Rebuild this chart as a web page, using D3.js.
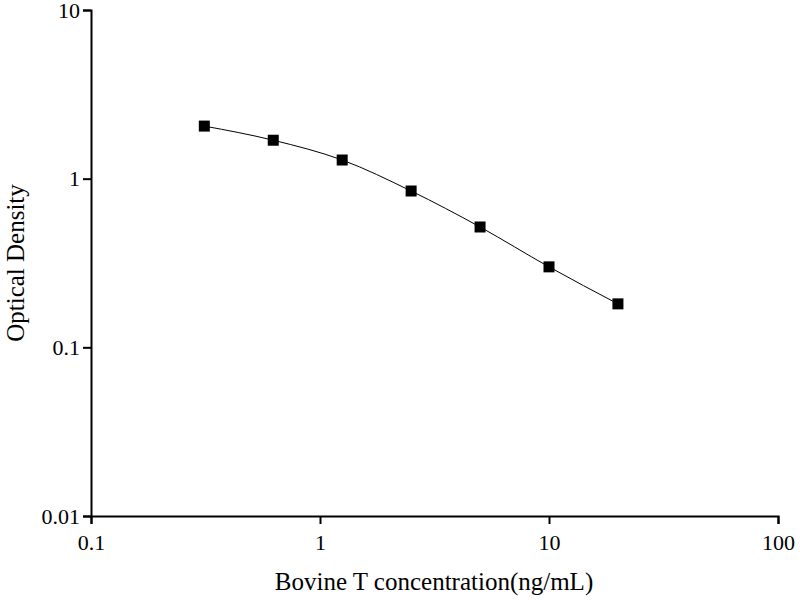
<!DOCTYPE html>
<html>
<head>
<meta charset="utf-8">
<script src="https://cdn.jsdelivr.net/npm/d3@7"></script>
<style>
  body { margin: 0; background: #fff; }
  text { font-family: "Liberation Serif", "Times New Roman", serif; }
</style>
</head>
<body>
<script>
// standard curve values
var concentration = [0.3125, 0.625, 1.25, 2.5, 5, 10, 20];
var density = [2.05, 1.69, 1.29, 0.845, 0.517, 0.30, 0.181];
var xTicks = [0.1, 1, 10, 100];
var yTicks = [0.01, 0.1, 1, 10];

var svg = d3.select("body").append("svg")
    .attr("width", 800)
    .attr("height", 600);

var x = d3.scaleLog().domain([0.1, 100]).range([91, 778]);
var y = d3.scaleLog().domain([0.01, 10]).range([516, 10]);

// minor ticks 2..9 in each decade
function minors(lo, hi) {
    var out = [];
    for (var d = lo; d < hi; d *= 10)
        for (var k = 2; k < 10; k++) out.push(d * k);
    return out;
}

var fmt = function (d) { return String(+d.toPrecision(3)); };

// x axis
var gx = svg.append("g").attr("transform", "translate(0,516)");
gx.call(d3.axisBottom(x).tickValues(minors(0.1, 100)).tickSize(4).tickFormat(""));
gx.call(d3.axisBottom(x).tickValues(xTicks).tickSize(8).tickFormat(fmt));

// y axis
var gy = svg.append("g").attr("transform", "translate(91,0)");
gy.call(d3.axisLeft(y).tickValues(minors(0.01, 10)).tickSize(4).tickFormat(""));
gy.call(d3.axisLeft(y).tickValues(yTicks).tickSize(8).tickFormat(fmt));

svg.selectAll(".domain").attr("stroke", "#000").attr("stroke-width", 2);
svg.selectAll(".tick line").attr("stroke", "#000").attr("stroke-width", 2);
svg.selectAll("g").attr("font-size", null);
svg.selectAll(".tick text")
    .attr("fill", "#000")
    .style("font-size", "22px")
    .style("font-family", "Liberation Serif");
gx.selectAll(".tick text").attr("dy", "1.05em");

// axis titles
svg.append("text")
    .attr("x", 434).attr("y", 590)
    .attr("text-anchor", "middle")
    .style("font-size", "25px")
    .text("Bovine T concentration(ng/mL)");

svg.append("text")
    .attr("transform", "translate(24,263) rotate(-90)")
    .attr("text-anchor", "middle")
    .style("font-size", "25px")
    .text("Optical Density");

// fitted curve
var pts = concentration.map(function (c, i) { return [c, density[i]]; });
var line = d3.line()
    .x(function (d) { return x(d[0]); })
    .y(function (d) { return y(d[1]); })
    .curve(d3.curveMonotoneX);

svg.append("path")
    .datum(pts)
    .attr("d", line)
    .attr("fill", "none")
    .attr("stroke", "#000")
    .attr("stroke-width", 1);

// markers
svg.selectAll(".pt")
    .data(pts).enter()
    .append("rect")
    .attr("class", "pt")
    .attr("x", function (d) { return x(d[0]) - 5.5; })
    .attr("y", function (d) { return y(d[1]) - 5.5; })
    .attr("width", 11)
    .attr("height", 11)
    .attr("fill", "#000");
</script>
</body>
</html>
